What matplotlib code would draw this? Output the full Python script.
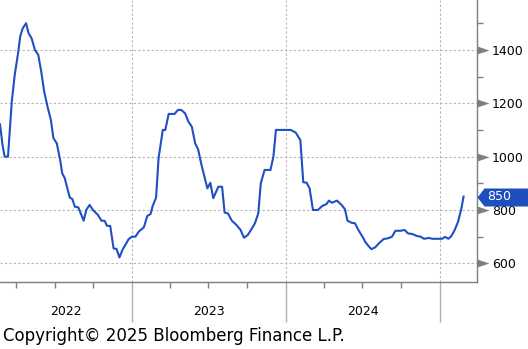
import numpy as np
import pandas as pd
import matplotlib
matplotlib.use("Agg")
import matplotlib.pyplot as plt
from matplotlib.path import Path
from matplotlib.transforms import blended_transform_factory

# weekly-ish readings
dates = [
    "2022-02-21", "2022-02-27", "2022-03-04", "2022-03-12", "2022-03-21", "2022-03-28",
    "2022-04-05", "2022-04-10", "2022-04-16", "2022-04-24", "2022-04-30", "2022-05-07",
    "2022-05-15", "2022-05-23", "2022-05-30", "2022-06-06", "2022-06-14", "2022-06-22",
    "2022-06-28", "2022-07-06", "2022-07-14", "2022-07-19", "2022-07-25", "2022-07-29",
    "2022-08-06", "2022-08-12", "2022-08-18", "2022-08-26", "2022-09-08", "2022-09-14",
    "2022-09-22", "2022-09-30", "2022-10-12", "2022-10-20", "2022-10-28", "2022-11-02",
    "2022-11-10", "2022-11-18", "2022-11-25", "2022-12-02", "2022-12-09", "2022-12-24",
    "2023-01-01", "2023-01-09", "2023-01-17", "2023-01-29", "2023-02-06", "2023-02-14",
    "2023-02-19", "2023-02-27", "2023-03-05", "2023-03-15", "2023-03-21", "2023-03-29",
    "2023-04-12", "2023-04-20", "2023-04-28", "2023-05-07", "2023-05-15", "2023-05-23",
    "2023-05-31", "2023-06-07", "2023-06-15", "2023-06-23", "2023-06-29", "2023-07-06",
    "2023-07-13", "2023-07-25", "2023-08-03", "2023-08-09", "2023-08-17", "2023-08-26",
    "2023-09-06", "2023-09-16", "2023-09-24", "2023-10-03", "2023-10-13", "2023-10-20",
    "2023-10-28", "2023-11-03", "2023-11-12", "2023-11-26", "2023-12-03", "2023-12-09",
    "2024-01-13", "2024-01-25", "2024-02-05", "2024-02-12", "2024-02-20", "2024-02-27",
    "2024-03-06", "2024-03-18", "2024-03-28", "2024-04-07", "2024-04-13", "2024-04-20",
    "2024-05-02", "2024-05-13", "2024-05-21", "2024-05-27", "2024-06-06", "2024-06-14",
    "2024-06-22", "2024-07-04", "2024-07-08", "2024-07-16", "2024-07-23", "2024-08-01",
    "2024-08-11", "2024-08-21", "2024-09-01", "2024-09-10", "2024-09-18", "2024-09-30",
    "2024-10-10", "2024-10-18", "2024-10-28", "2024-11-09", "2024-11-17", "2024-11-25",
    "2024-12-07", "2024-12-15", "2025-01-07", "2025-01-14", "2025-01-22", "2025-01-29",
    "2025-02-06", "2025-02-14", "2025-02-22", "2025-02-27",
]
values = [
    1121, 1044, 1000, 1000, 1206, 1306,
    1388, 1450, 1481, 1500, 1462, 1444,
    1400, 1381, 1319, 1244, 1187, 1137,
    1069, 1050, 987, 937, 919, 894,
    846, 841, 812, 810, 760, 800,
    819, 800, 781, 760, 759, 741,
    740, 656, 654, 622, 650, 691,
    700, 700, 719, 735, 777, 785,
    815, 846, 994, 1100, 1100, 1160,
    1160, 1175, 1175, 1162, 1131, 1112,
    1050, 1027, 969, 919, 881, 902,
    844, 887, 887, 790, 787, 760,
    744, 725, 696, 706, 731, 750,
    787, 900, 950, 950, 1000, 1100,
    1100, 1090, 1062, 904, 902, 881,
    800, 800, 815, 822, 835, 827,
    835, 819, 803, 760, 752, 750,
    725, 694, 681, 665, 653, 660,
    677, 691, 694, 700, 722, 722,
    725, 712, 710, 702, 700, 692,
    695, 692, 692, 699, 692, 702,
    725, 756, 806, 850,
]
last_value = 850

y_major = [600, 800, 1000, 1200, 1400]
y_minor = [700, 900, 1100, 1300, 1500]
year_labels = ["2022", "2023", "2024"]

LINE = "#1f4fc4"
GRAY = "#7f7f7f"
GRID = "#b4b4b4"

dt = pd.to_datetime(dates)
x0 = pd.Timestamp("2022-02-21")
x1 = pd.Timestamp("2025-03-31")

fig = plt.figure(figsize=(5.28, 3.49), dpi=100)
ax = fig.add_axes([0, 1 - 282 / 349, 477 / 528, 282 / 349])

ax.plot(dt, values, color=LINE, lw=1.5, zorder=3)
ax.set_xlim(x0, x1)
ax.set_ylim(530, 1587)

for s in ["left", "top"]:
    ax.spines[s].set_visible(False)
for s in ["right", "bottom"]:
    ax.spines[s].set_color(GRAY)
    ax.spines[s].set_linewidth(1)

# y axis on the right
ax.yaxis.tick_right()
ax.set_yticks(y_major)
ax.set_yticks(y_minor, minor=True)
ax.set_yticklabels([str(v) for v in y_major])
ax.tick_params(axis="y", which="major", length=0, pad=10.8, labelsize=9)
ax.tick_params(axis="y", which="minor", length=4, width=1, color=GRAY)

# x axis: year separators + quarter ticks
year_starts = pd.to_datetime(["2023-01-01", "2024-01-01", "2025-01-01"])
quarters = pd.to_datetime(["2022-04-01", "2022-07-01", "2022-10-01",
                           "2023-04-01", "2023-07-01", "2023-10-01",
                           "2024-04-01", "2024-07-01", "2024-10-01"])
ax.set_xticks(year_starts)
ax.set_xticklabels([])
ax.set_xticks(quarters, minor=True)
ax.tick_params(axis="x", which="major", length=29, width=1, color="#b0b0b0")
ax.tick_params(axis="x", which="minor", length=4, width=1, color=GRAY)

ax.grid(True, which="major", color=GRID, ls=(0, (2, 2)), lw=0.8)

# year labels centred in visible span of each year
bt = blended_transform_factory(ax.transData, ax.transAxes)
edges = [x0] + list(year_starts)
for lab, a, b in zip(year_labels, edges[:-1], edges[1:]):
    mid = a + (b - a) / 2
    ax.text(mid, -0.106, lab, transform=bt, ha="center", va="center", fontsize=9)

# gray triangles at major y ticks
yt = blended_transform_factory(ax.transAxes, ax.transData)
tri = Path([(0, -4), (12, 0), (0, 4), (0, -4)], closed=True)
ax.plot([1] * len(y_major), y_major, ls="none", marker=tri, markersize=17.28,
        color=GRAY, mew=0, transform=yt, clip_on=False)

# last value tag
tag = Path([(0, 0), (7, -9), (52, -9), (52, 9), (7, 9), (0, 0)], closed=True)
ax.plot([1], [last_value], ls="none", marker=tag, markersize=74.88,
        color="#1f4fbf", mew=0, transform=yt, clip_on=False, zorder=5)
ax.annotate(str(last_value), xy=(1, last_value), xycoords=yt, xytext=(10, 0),
            textcoords="offset pixels", va="center", ha="left", color="white",
            fontsize=9, zorder=6, annotation_clip=False)

fig.text(3 / 528, 1 - 336 / 349, "Copyright\u00a9 2025 Bloomberg Finance L.P.",
         fontsize=12, va="center", ha="left")

fig.savefig("out.png", dpi=100)
